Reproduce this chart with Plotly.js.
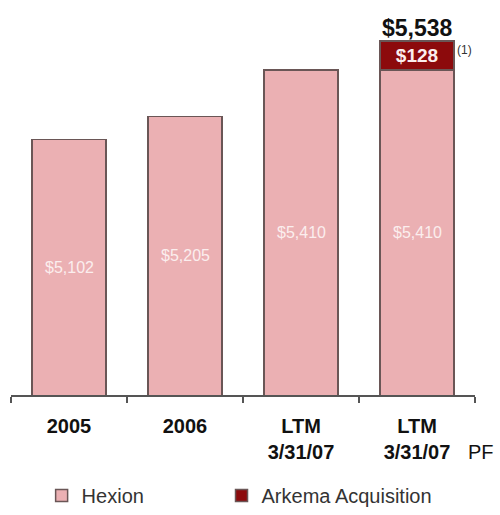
<!DOCTYPE html>
<html>
<head>
<meta charset="utf-8">
<script src="https://cdn.plot.ly/plotly-3.0.1.min.js"></script>
<style>
  html, body { margin: 0; padding: 0; background: #fff; }
  #chart { width: 500px; height: 515px; }
</style>
</head>
<body>
<div id="chart"></div>
<script>
// Sales by period ($ millions)
const periods = [0, 1, 2, 3];
const periodLabels = ['2005', '2006', 'LTM<br>3/31/07', 'LTM<br>3/31/07'];
const hexion = [5102, 5205, 5410, 5410];
const arkema = [null, null, null, 128];
const seriesNames = ['Hexion', 'Arkema Acquisition'];

const FONT = 'Liberation Sans, Arial, sans-serif';
const axisFloor = 3975;          // value axis starts here (broken scale)
const axisTop = 5719;

const fmt = v => '$' + v.toLocaleString('en-US');
const total = hexion[3] + arkema[3];

const outline = { color: '#6a5656', width: 1.5 };

const traces = [
  {
    type: 'bar',
    name: seriesNames[0],
    legend: 'legend',
    x: periods,
    y: hexion,
    width: 0.64,
    marker: { color: '#ebb0b3', line: outline },
    hoverinfo: 'skip'
  },
  {
    type: 'bar',
    name: seriesNames[1],
    legend: 'legend2',
    x: periods,
    y: arkema,
    width: 0.64,
    marker: { color: '#8c0a0c', line: outline },
    text: arkema.map(v => v == null ? '' : fmt(v)),
    textposition: 'inside',
    insidetextanchor: 'middle',
    textangle: 0,
    textfont: { family: FONT, size: 19, color: '#fbeeee', weight: 'bold' },
    hoverinfo: 'skip'
  }
];

// Hexion values, centred in the visible part of each bar
const hexionLabels = hexion.map((v, i) => ({
  x: periods[i], y: (axisFloor + v) / 2, xref: 'x', yref: 'y',
  text: fmt(v), showarrow: false,
  xanchor: 'center', yanchor: 'middle',
  font: { family: FONT, size: 16, color: '#fbeeee' }
}));

const legendCommon = {
  orientation: 'h',
  yref: 'container',
  y: -0.0117,
  yanchor: 'bottom',
  xanchor: 'left',
  font: { family: FONT, size: 20, color: '#333' },
  bgcolor: 'rgba(0,0,0,0)',
  borderwidth: 0
};

const layout = {
  width: 500,
  height: 515,
  margin: { l: 11, r: 25, t: 0, b: 120 },
  paper_bgcolor: '#ffffff',
  plot_bgcolor: '#ffffff',
  barmode: 'stack',
  showlegend: true,
  font: { family: FONT, color: '#222' },
  xaxis: {
    range: [-0.5, 3.5],
    tickmode: 'array',
    tickvals: periods,
    ticktext: periodLabels,
    ticks: '',
    ticklabelstandoff: 12,
    tickfont: { family: FONT, size: 20, color: '#111', weight: 'bold' },
    showline: true,
    linecolor: '#555',
    linewidth: 1.5,
    showgrid: false,
    zeroline: false,
    automargin: false,
    fixedrange: true,
    minor: {
      tickmode: 'array',
      tickvals: [-0.5, 0.5, 1.5, 2.5, 3.5],
      ticks: 'outside',
      ticklen: 6,
      tickwidth: 1.5,
      tickcolor: '#555',
      showgrid: false
    }
  },
  yaxis: {
    range: [axisFloor, axisTop],
    visible: false,
    showgrid: false,
    zeroline: false,
    automargin: false,
    fixedrange: true
  },
  legend: Object.assign({}, legendCommon, { x: 0.066 }),
  legend2: Object.assign({}, legendCommon, { x: 0.4537 }),
  annotations: hexionLabels.concat([
    {
      x: 3, y: total, xref: 'x', yref: 'y',
      text: '<b>' + fmt(total) + '</b>',
      showarrow: false, xanchor: 'center', yanchor: 'bottom', yshift: -2,
      font: { family: FONT, size: 23, color: '#111' }
    },
    {
      x: 3.33, y: total, xref: 'x', yref: 'y',
      text: '(1)',
      showarrow: false, xanchor: 'left', yanchor: 'middle', yshift: -9,
      font: { family: FONT, size: 12, color: '#333' }
    },
    {
      // PF sits beside the last category label, given in page pixels
      x: (481 - 11) / 464, xref: 'paper',
      y: (395 - 452) / 395, yref: 'paper',
      text: 'PF', showarrow: false,
      xanchor: 'center', yanchor: 'middle',
      font: { family: FONT, size: 20, color: '#111' }
    }
  ])
};

Plotly.newPlot('chart', traces, layout, { displayModeBar: false, staticPlot: true });
</script>
</body>
</html>
